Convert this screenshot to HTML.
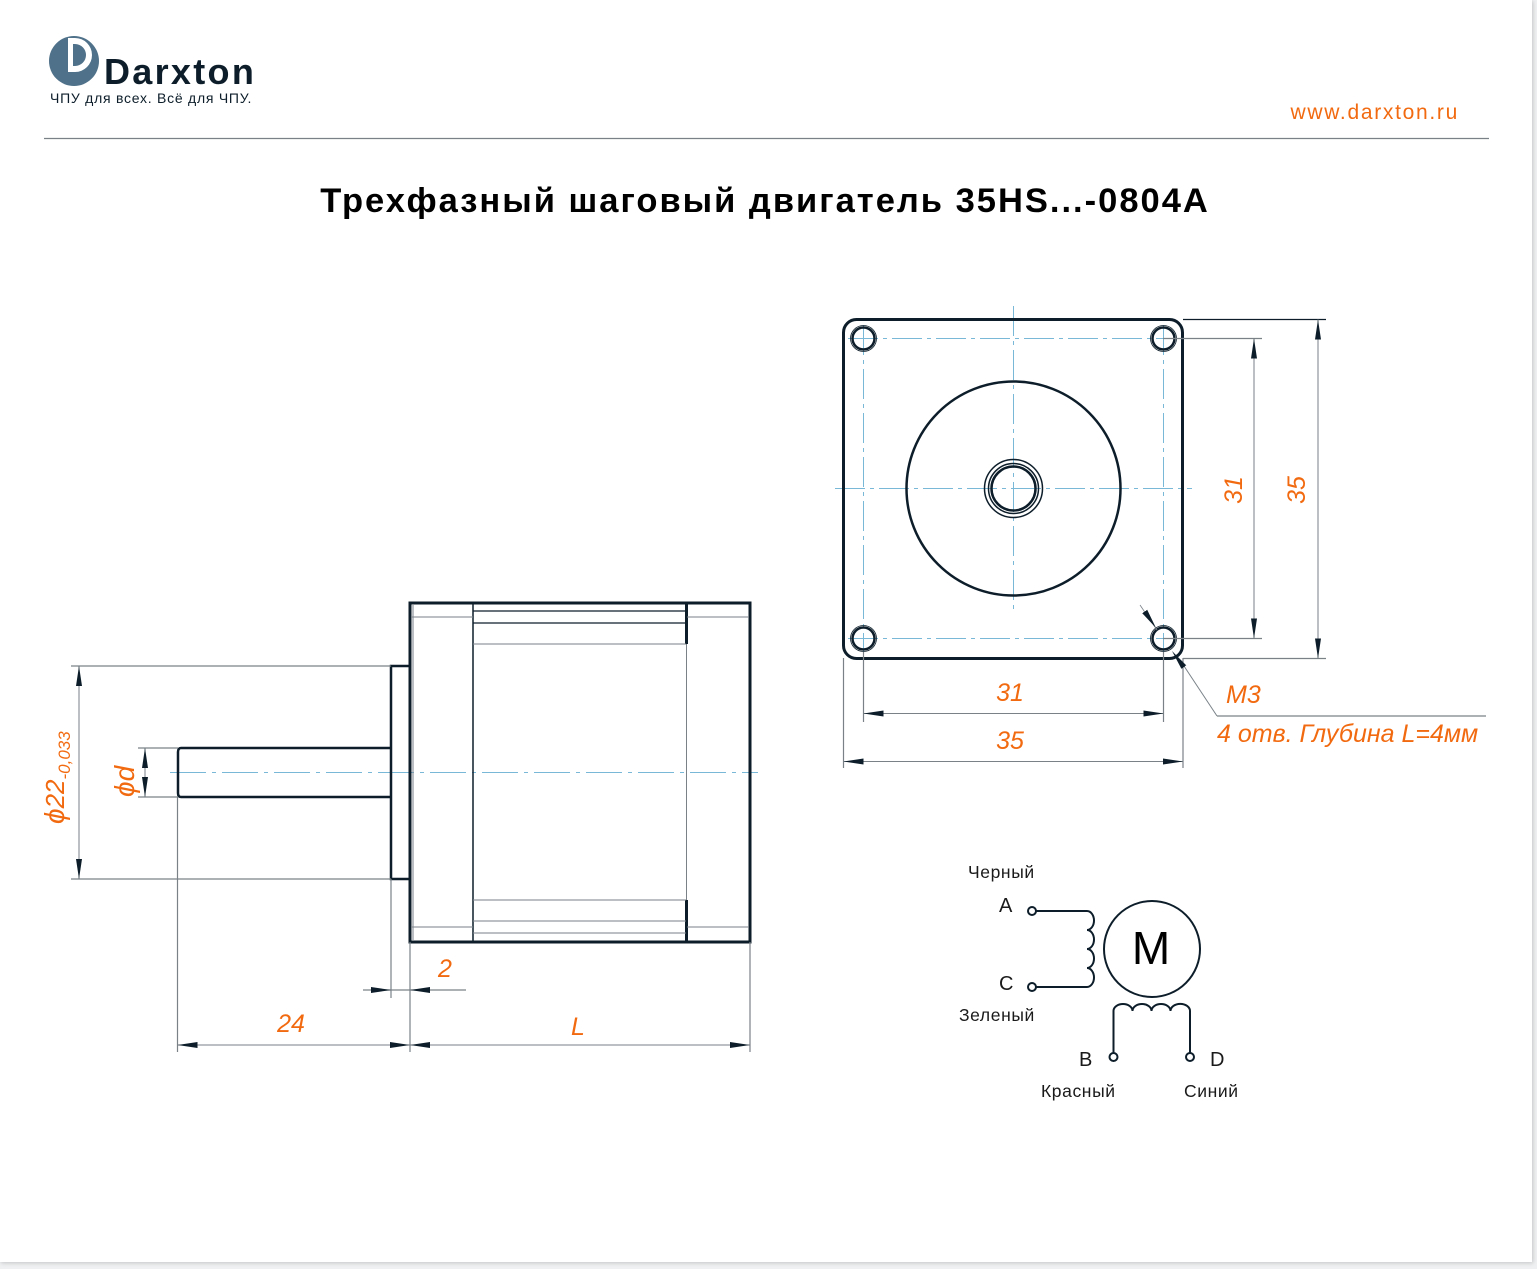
<!DOCTYPE html>
<html><head><meta charset="utf-8"><style>
html,body{margin:0;padding:0;background:#eef0f1;}
.page{position:absolute;left:0;top:0;width:1532px;height:1262px;background:#fff;box-shadow:1px 1px 4px rgba(0,0,0,0.18);}
svg{position:absolute;left:0;top:0;}
</style></head><body>
<div class="page"></div>
<svg width="1537" height="1269" viewBox="0 0 1537 1269" xmlns="http://www.w3.org/2000/svg" font-family="Liberation Sans, DejaVu Sans, sans-serif">
<defs>
<marker id="a" viewBox="0 0 20 8" refX="20" refY="4" markerWidth="20" markerHeight="8" markerUnits="userSpaceOnUse" orient="auto-start-reverse"><path d="M0,1 L20,4 L0,7 Z" fill="#0d1e2a"/></marker>
</defs>
<!-- logo -->
<circle cx="74" cy="61" r="25" fill="#4f7189"/>
<path d="M68,38 L75,38 A17,17 0 0 1 75,72 L68,72 Z" fill="#fff"/>
<path d="M73,44 L75,44 A11,11 0 0 1 75,66 L73,66 Z" fill="#4f7189"/>
<text x="104" y="84" font-size="36" font-weight="bold" fill="#0d1e2a" letter-spacing="2.3">Darxton</text>
<text x="50" y="103" font-size="14" fill="#0d1e2a" letter-spacing="0.75">ЧПУ для всех. Всё для ЧПУ.</text>
<text x="1459" y="119" font-size="21" fill="#f26a10" text-anchor="end" letter-spacing="1.7">www.darxton.ru</text>
<line x1="44" y1="138.5" x2="1489" y2="138.5" stroke="#7a8288" stroke-width="1.2"/>
<text x="765" y="212" font-size="34.5" font-weight="bold" fill="#000" text-anchor="middle" letter-spacing="2">Трехфазный шаговый двигатель 35HS...-0804A</text>

<!-- side view -->
<g fill="none">
<line x1="170" y1="772.5" x2="758" y2="772.5" stroke="#7ab8d8" stroke-width="1" stroke-dasharray="36,6,4,6"/>
<rect x="410" y="603" width="340" height="339" stroke="#0d1e2a" stroke-width="3"/>
<line x1="413" y1="605" x2="413" y2="940" stroke="#7a8288" stroke-width="1"/>
<line x1="473" y1="603" x2="473" y2="942" stroke="#0d1e2a" stroke-width="1.5"/>
<line x1="686.5" y1="603" x2="686.5" y2="942" stroke="#7a8288" stroke-width="1"/>
<line x1="686.5" y1="603" x2="686.5" y2="644" stroke="#0d1e2a" stroke-width="3"/>
<line x1="686.5" y1="900" x2="686.5" y2="942" stroke="#0d1e2a" stroke-width="3"/>
<line x1="473" y1="611" x2="686" y2="611" stroke="#0d1e2a" stroke-width="1.2"/>
<line x1="473" y1="623" x2="686" y2="623" stroke="#0d1e2a" stroke-width="1.2"/>
<line x1="473" y1="644" x2="686" y2="644" stroke="#7a8288" stroke-width="1"/>
<line x1="411" y1="617" x2="473" y2="617" stroke="#7a8288" stroke-width="1"/>
<line x1="687" y1="617" x2="749" y2="617" stroke="#7a8288" stroke-width="1"/>
<line x1="473" y1="900" x2="686" y2="900" stroke="#7a8288" stroke-width="1"/>
<line x1="473" y1="921" x2="686" y2="921" stroke="#7a8288" stroke-width="1"/>
<line x1="473" y1="933" x2="686" y2="933" stroke="#7a8288" stroke-width="1"/>
<line x1="411" y1="927" x2="473" y2="927" stroke="#7a8288" stroke-width="1"/>
<line x1="687" y1="927" x2="749" y2="927" stroke="#7a8288" stroke-width="1"/>
<path d="M410,666 L391,666 L391,879 L410,879" stroke="#0d1e2a" stroke-width="2.5"/>
<path d="M391,748 L181,748 Q178,748 178,752 L178,793 Q178,797 181,797 L391,797" stroke="#0d1e2a" stroke-width="2.5"/>
<g stroke="#7a8288" stroke-width="1.2">
<line x1="71" y1="666" x2="391" y2="666"/>
<line x1="71" y1="879" x2="391" y2="879"/>
<line x1="138" y1="748" x2="178" y2="748"/>
<line x1="138" y1="797" x2="178" y2="797"/>
<line x1="177.5" y1="797" x2="177.5" y2="1052"/>
<line x1="391" y1="879" x2="391" y2="998"/>
<line x1="410" y1="942" x2="410" y2="1052"/>
<line x1="750" y1="942" x2="750" y2="1052"/>
<line x1="363" y1="990" x2="466" y2="990"/>
</g>
<g stroke="#7a8288" stroke-width="1" marker-start="url(#a)" marker-end="url(#a)">
<line x1="79" y1="666" x2="79" y2="879"/>
<line x1="145" y1="748" x2="145" y2="797"/>
<line x1="177.5" y1="1045" x2="410" y2="1045"/>
<line x1="410" y1="1045" x2="750" y2="1045"/>
</g>
<line x1="371" y1="990" x2="391" y2="990" stroke="none" marker-end="url(#a)"/>
<line x1="430" y1="990" x2="410" y2="990" stroke="none" marker-end="url(#a)"/>
</g>
<g fill="#f26a10" font-style="italic" font-size="25">
<text x="291" y="1032" text-anchor="middle">24</text>
<text x="578" y="1035" text-anchor="middle">L</text>
<text x="445" y="977" text-anchor="middle">2</text>
<text transform="translate(64,824) rotate(-90)" font-size="28">ϕ<tspan font-size="26">22</tspan><tspan font-size="17" dy="6">-0,033</tspan></text>
<text transform="translate(134,797) rotate(-90)" font-size="28">ϕd</text>
</g>

<!-- front view -->
<g fill="none">
<g stroke="#7ab8d8" stroke-width="1" stroke-dasharray="30,5,4,5">
<line x1="1013.5" y1="306" x2="1013.5" y2="610"/>
<line x1="835" y1="488.5" x2="1192" y2="488.5"/>
<line x1="863.5" y1="325" x2="863.5" y2="652"/>
<line x1="1163.5" y1="325" x2="1163.5" y2="652"/>
<line x1="848" y1="338.5" x2="1178" y2="338.5"/>
<line x1="848" y1="638.5" x2="1178" y2="638.5"/>
</g>
<rect x="843.5" y="319.5" width="339" height="339" rx="13" stroke="#0d1e2a" stroke-width="3"/>
<g stroke="#0d1e2a">
<circle cx="863.5" cy="338.5" r="11" stroke-width="2.5"/><circle cx="863.5" cy="338.5" r="13" stroke-width="0.8"/>
<circle cx="1163.5" cy="338.5" r="11" stroke-width="2.5"/><circle cx="1163.5" cy="338.5" r="13" stroke-width="0.8"/>
<circle cx="863.5" cy="638.5" r="11" stroke-width="2.5"/><circle cx="863.5" cy="638.5" r="13" stroke-width="0.8"/>
<circle cx="1163.5" cy="638.5" r="11" stroke-width="2.5"/><circle cx="1163.5" cy="638.5" r="13" stroke-width="0.8"/>
<circle cx="1013.5" cy="488.5" r="107" stroke-width="2.5"/>
<circle cx="1013.5" cy="488.5" r="29" stroke-width="1.5"/>
<circle cx="1013.5" cy="488.5" r="25" stroke-width="1.5"/>
<circle cx="1013.5" cy="488.5" r="22" stroke-width="2.5"/>
</g>
<g stroke="#7a8288" stroke-width="1.2">
<line x1="1183" y1="319.5" x2="1326" y2="319.5" stroke="#0d1e2a"/>
<line x1="1163" y1="338.5" x2="1262" y2="338.5"/>
<line x1="1163" y1="638.5" x2="1262" y2="638.5"/>
<line x1="1183" y1="658.5" x2="1326" y2="658.5"/>
<line x1="863.5" y1="652" x2="863.5" y2="722"/>
<line x1="1163.5" y1="652" x2="1163.5" y2="722"/>
<line x1="843.5" y1="658" x2="843.5" y2="768"/>
<line x1="1183" y1="658" x2="1183" y2="768"/>
<line x1="1182" y1="663" x2="1217" y2="716" stroke-width="1"/>
<line x1="1217" y1="716" x2="1486" y2="716"/>
<line x1="1140" y1="605" x2="1157" y2="630" stroke-width="0.8"/>
</g>
<g stroke="#7a8288" stroke-width="1" marker-start="url(#a)" marker-end="url(#a)">
<line x1="1254" y1="338.5" x2="1254" y2="638.5"/>
<line x1="1318" y1="319.5" x2="1318" y2="658.5"/>
<line x1="863.5" y1="713.5" x2="1163.5" y2="713.5"/>
<line x1="843.5" y1="761.5" x2="1183" y2="761.5"/>
</g>
<line x1="1143" y1="609" x2="1156" y2="628" stroke="none" marker-end="url(#a)"/>
<line x1="1186" y1="670" x2="1172" y2="651" stroke="none" marker-end="url(#a)"/>
</g>
<g fill="#f26a10" font-style="italic" font-size="25">
<text x="1010" y="701" text-anchor="middle">31</text>
<text x="1010" y="749" text-anchor="middle">35</text>
<text transform="translate(1242,490) rotate(-90)" text-anchor="middle">31</text>
<text transform="translate(1305,490) rotate(-90)" text-anchor="middle">35</text>
<text x="1226" y="703">M3</text>
<text x="1217" y="742">4 отв. Глубина L=4мм</text>
</g>

<!-- schematic -->
<g fill="none" stroke="#0d1e2a" stroke-width="2">
<circle cx="1152" cy="949" r="48"/>
<path d="M1036,911 L1087,911 A7,9.5 0 0 1 1087,930 A7,9.5 0 0 1 1087,949 A7,9.5 0 0 1 1087,968 A7,9.5 0 0 1 1087,987 L1036,987"/>
<path d="M1113.5,1053 L1113.5,1011 A9.5,7 0 0 1 1132.5,1011 A9.5,7 0 0 1 1151.5,1011 A9.5,7 0 0 1 1170.5,1011 A9.5,7 0 0 1 1190,1011 L1190,1053"/>
<circle cx="1032" cy="911" r="4" fill="#fff"/>
<circle cx="1032" cy="987" r="4" fill="#fff"/>
<circle cx="1113.5" cy="1057" r="4" fill="#fff"/>
<circle cx="1190" cy="1057" r="4" fill="#fff"/>
</g>
<text x="1151" y="964" font-size="46" fill="#000" text-anchor="middle">M</text>
<g font-size="17.5" fill="#1a1a1a" letter-spacing="0.6">
<text x="968" y="878">Черный</text>
<text x="959" y="1021">Зеленый</text>
<text x="1041" y="1097">Красный</text>
<text x="1184" y="1097">Синий</text>
</g>
<g font-size="20" fill="#1a1a1a">
<text x="999" y="912">A</text>
<text x="999" y="990">C</text>
<text x="1079" y="1066">B</text>
<text x="1210" y="1066">D</text>
</g>
</svg>
</body></html>
